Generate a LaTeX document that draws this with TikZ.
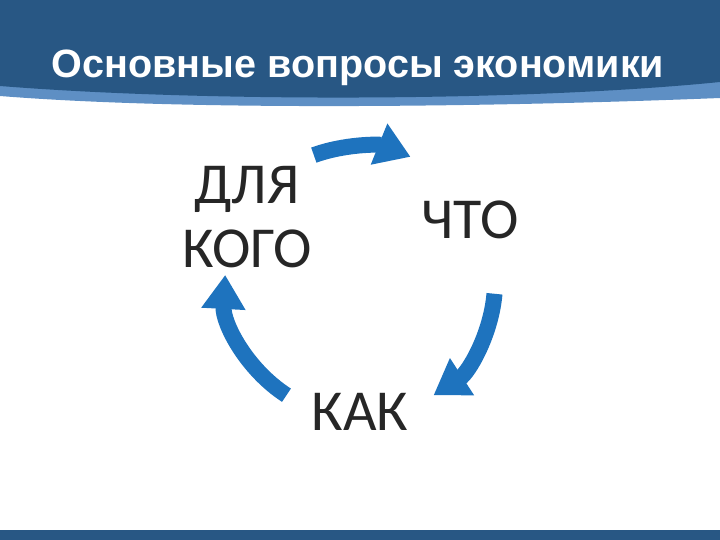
\documentclass[tikz,border=0pt]{standalone}
\usepackage{fontspec}
\setmainfont{Carlito}
\newfontfamily\titlefont{Liberation Sans}
\usetikzlibrary{arrows.meta,calc}
\definecolor{hdr}{HTML}{285784}
\definecolor{hdrlight}{HTML}{5E8FC4}
\definecolor{arr}{HTML}{1E73BE}
\tikzset{lbl/.style={font=\fontsize{33}{36}\selectfont, text=black!85, align=center},
  cyc/.style={arr, line width=16*0.02cm, -{Triangle[length=34*0.02cm,width=42*0.02cm]}}}
\begin{document}
\begin{tikzpicture}[x=0.02cm,y=-0.02cm]
\useasboundingbox (0,0) rectangle (720,540);
\fill[hdrlight] (0,0) -- (720,0) -- (720,98) .. controls (520,106) and (200,112) .. (0,96) -- cycle;
\fill[hdr] (0,0) -- (720,0) -- (720,82) .. controls (520,102) and (200,102) .. (0,86) -- cycle;
\node[font=\titlefont\bfseries\fontsize{22.5}{26}\selectfont, text=white] (title) at (358,68) {Основные вопросы экономики};
\fill[hdr] (0,530) rectangle (720,540);
\node[lbl] (dk) at (247,217) {ДЛЯ\\КОГО};
\node[lbl] (chto) at (470,220) {ЧТО};
\node[lbl] (kak) at (360,412) {КАК};
\coordinate (c) at (360,282);
\def\R{135}
\draw[cyc] ($(c)+(-110:\R)$) arc[start angle=-110,end angle=-68,radius=\R];
\draw[cyc] ($(c)+(5:\R)$) arc[start angle=5,end angle=57,radius=\R];
\draw[cyc] ($(c)+(123:\R)$) arc[start angle=123,end angle=183,radius=\R];
\end{tikzpicture}
\end{document}
